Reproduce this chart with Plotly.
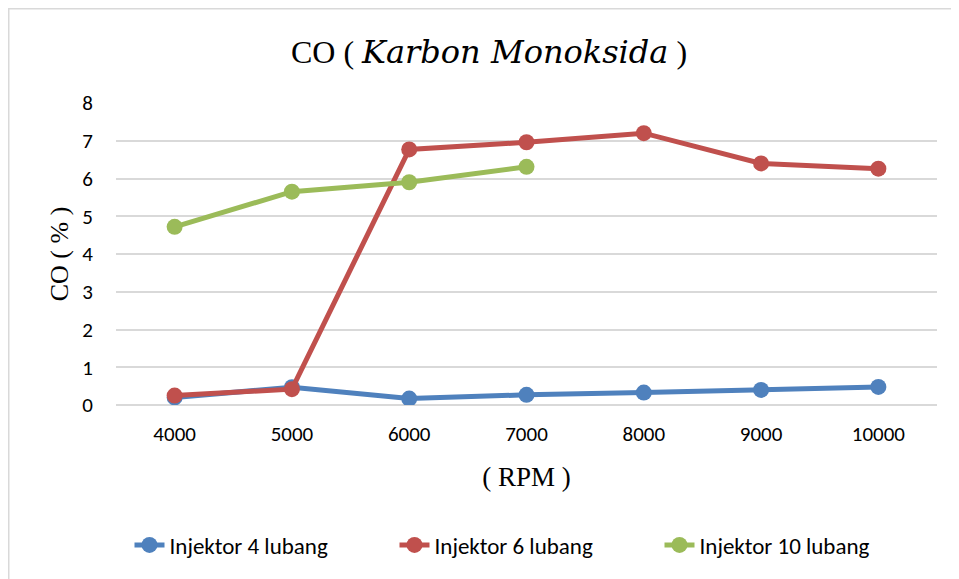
import plotly.graph_objects as go

# =====================================================
# DATA
# =====================================================

rpm = ["4000", "5000", "6000", "7000", "8000", "9000", "10000"]

injektor_4 = [0.2, 0.47, 0.17, 0.27, 0.33, 0.4, 0.48]
injektor_6 = [0.25, 0.42, 6.77, 6.96, 7.2, 6.4, 6.26]
injektor_10 = [4.72, 5.65, 5.9, 6.31]

SERIES = [
    ("Injektor 4 lubang", injektor_4, "#4F81BD"),
    ("Injektor 6 lubang", injektor_6, "#C0504D"),
    ("Injektor 10 lubang", injektor_10, "#9BBB59"),
]

SANS = "Carlito, Calibri, Lato, sans-serif"
SERIF = "Liberation Serif, Times New Roman, serif"

# figure is placed 8px in from the page corner (body margin)
W, H = 951, 571
L, R, T, B = 108, 22, 95, 174
PW = W - L - R
PH = H - T - B

# =====================================================
# FIGURE
# =====================================================

fig = go.Figure()

for name, values, color in SERIES:
    fig.add_trace(
        go.Scatter(
            x=rpm[:len(values)],
            y=values,
            name=name,
            mode="lines+markers",
            line=dict(color=color, width=5),
            marker=dict(color=color, size=16),
        )
    )

title_text = (
    "CO ( <span style=\"font-family:DejaVu Serif;font-style:italic\">"
    "Karbon Monoksida</span> )"
)

fig.update_layout(
    width=W,
    height=H,
    paper_bgcolor="white",
    plot_bgcolor="white",
    margin=dict(l=L, r=R, t=T, b=B),
    title=dict(
        text=title_text,
        font=dict(family=SERIF, size=32, color="black"),
        x=(481 - L) / PW,
        xref="paper",
        xanchor="center",
        y=1 - 44 / H,
        yanchor="middle",
    ),
    showlegend=True,
    legend=dict(
        orientation="h",
        x=(519 - L) / PW,
        xanchor="center",
        y=-(537 - (H - B)) / PH,
        yanchor="middle",
        font=dict(family=SANS, size=23, color="black"),
        entrywidth=220,
        tracegroupgap=0,
    ),
    xaxis=dict(
        type="category",
        range=[-0.5, 6.5],
        showgrid=False,
        showline=False,
        ticks="",
        ticklabelstandoff=14,
        tickfont=dict(family=SANS, size=21, color="black"),
        title=dict(
            text="( RPM )",
            font=dict(family=SERIF, size=27, color="black"),
            standoff=21,
        ),
    ),
    yaxis=dict(
        range=[0, 8],
        dtick=1,
        showgrid=True,
        gridcolor="#D9D9D9",
        gridwidth=1.5,
        zeroline=True,
        zerolinecolor="#D9D9D9",
        zerolinewidth=1.5,
        showline=False,
        ticks="",
        ticklabelstandoff=22,
        tickfont=dict(family=SANS, size=21, color="black"),
        title=dict(
            text="CO ( % )",
            font=dict(family=SERIF, size=26, color="black"),
            standoff=6,
        ),
    ),
)

# outer chart frame (only top and left edges fall inside the picture)
fig.add_shape(
    type="rect",
    xref="paper",
    yref="paper",
    x0=(0.75 - L) / PW,
    x1=(1000 - L) / PW,
    y0=(H - B - 650) / PH,
    y1=(H - B - 0.75) / PH,
    line=dict(color="#D9D9D9", width=1.5),
    layer="below",
)

fig.write_html("out.html")
